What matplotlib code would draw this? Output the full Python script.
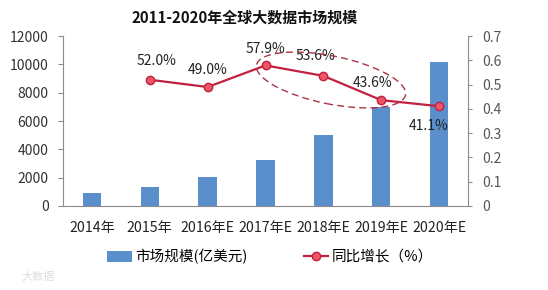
import matplotlib
matplotlib.use("Agg")
import matplotlib.pyplot as plt
from matplotlib.patches import Ellipse, Patch
from matplotlib.lines import Line2D

plt.rcParams['font.family'] = ['Noto Sans CJK SC', 'DejaVu Sans']

categories = ["2014年", "2015年", "2016年E", "2017年E", "2018年E", "2019年E", "2020年E"]
market_size = [920, 1340, 2050, 3250, 5000, 6990, 10160]
growth = [None, 0.520, 0.490, 0.579, 0.536, 0.436, 0.411]
growth_labels = ["", "52.0%", "49.0%", "57.9%", "53.6%", "43.6%", "41.1%"]

fig = plt.figure(figsize=(5.48, 2.90), dpi=100)
ax = fig.add_axes([0.115, 0.2897, 0.739, 0.586])
ax2 = ax.twinx()

x = list(range(len(categories)))
bar_color = "#5B8FCB"
ax.bar(x, market_size, width=0.32, color=bar_color, zorder=2)
ax.set_ylim(0, 12000)
ax.set_yticks(range(0, 12001, 2000))
ax.set_xlim(-0.5, len(categories) - 0.5)
ax.set_xticks(x)
ax.set_xticklabels(categories, fontsize=10.2, color="#222222")
ax.tick_params(axis='x', length=0, pad=11)
ax.tick_params(axis='y', labelsize=10, colors="#333333", length=3.6, color="#8C8C8C", pad=6.8)

gx = [i for i, g in enumerate(growth) if g is not None]
gy = [g for g in growth if g is not None]
line_color = "#C0213F"
ax2.plot(gx, gy, color=line_color, lw=1.6, marker='o', markersize=6,
         markerfacecolor="#EE5566", markeredgecolor=line_color, markeredgewidth=1.0, zorder=3)
ax2.set_ylim(0, 0.7)
ax2.set_yticks([0, 0.1, 0.2, 0.3, 0.4, 0.5, 0.6, 0.7])
ax2.set_yticklabels(["0", "0.1", "0.2", "0.3", "0.4", "0.5", "0.6", "0.7"])
ax2.tick_params(axis='y', labelsize=10, colors="#555555", length=3, color="#8C8C8C", pad=7)

# label offsets in pixels (dx, dy) relative to each point
label_offsets = [(0, 0), (7, 19), (0, 17), (0, 16), (-8, 20), (-9, 17), (-10, -20)]
for i, (g, lab) in enumerate(zip(growth, growth_labels)):
    if g is None:
        continue
    dx, dy = label_offsets[i]
    ax2.annotate(lab, (i, g), xytext=(dx * 0.72, dy * 0.72), textcoords='offset points',
                 ha='center', va='center', fontsize=10, color="#222222")

# dashed ellipse highlighting 2017-2019 (drawn in figure inches)
ell = Ellipse((3.31, 2.10), width=1.52, height=0.48, angle=-11.4,
              transform=fig.dpi_scale_trans, fill=False, ls=(0, (5, 3)),
              ec="#A83545", lw=1.0, zorder=4)
fig.add_artist(ell)

for a in (ax, ax2):
    a.spines['top'].set_visible(False)
    for s in ('left', 'right', 'bottom'):
        a.spines[s].set_color("#8C8C8C")
ax.spines['right'].set_visible(False)
ax2.spines['left'].set_visible(False)
ax2.spines['bottom'].set_visible(False)

fig.text(0.446, 0.94, "2011-2020年全球大数据市场规模", ha='center', va='center',
         fontsize=10.8, fontweight='bold', color="#111111")

handles = [Patch(facecolor=bar_color, edgecolor='none'),
           Line2D([0], [0], color=line_color, lw=1.6, marker='o', markersize=6,
                  markerfacecolor="#EE5566", markeredgecolor=line_color)]
fig.legend(handles, ["市场规模(亿美元)", "同比增长（%）"], loc='center',
           bbox_to_anchor=(0.4927, 0.114), ncol=2, frameon=False, fontsize=10.5,
           handlelength=1.65, columnspacing=3.84, handletextpad=0.25)

fig.text(0.04, 0.045, "大数据", fontsize=8, color="#DDDDDD", ha='left', va='center')

fig.savefig("out.png", dpi=100, facecolor='white')
